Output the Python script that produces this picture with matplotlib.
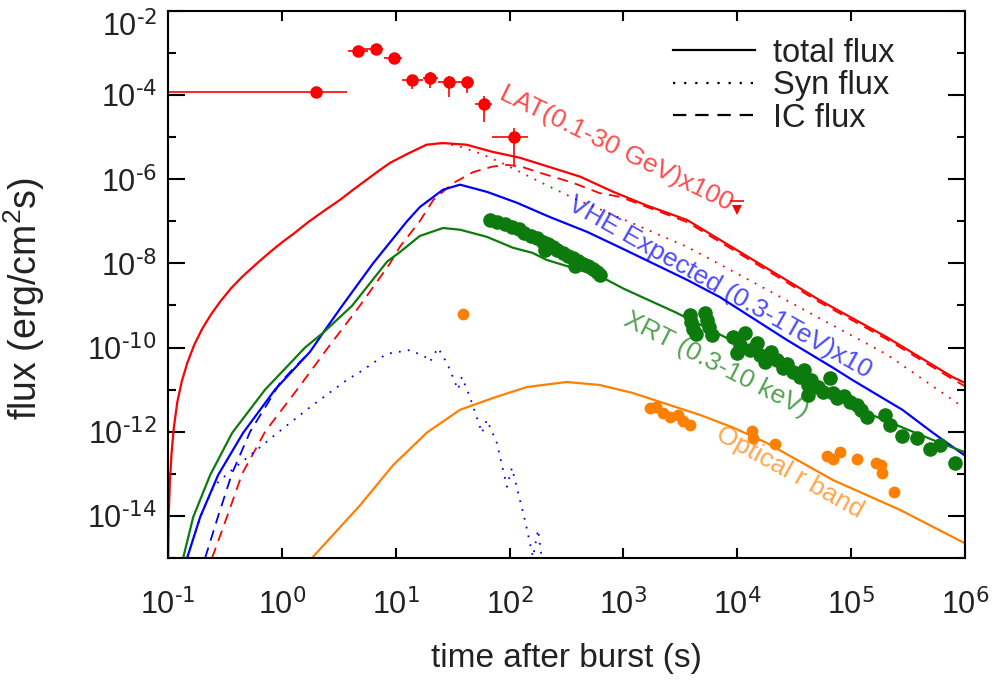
import numpy as np
import matplotlib
matplotlib.use("Agg")
import matplotlib.pyplot as plt
import matplotlib.transforms as mtransforms
from matplotlib.ticker import FixedLocator, FuncFormatter, NullFormatter, NullLocator
from matplotlib.lines import Line2D

plt.rcParams['font.family'] = ['Liberation Sans', 'DejaVu Sans']
plt.rcParams['mathtext.default'] = 'regular'
plt.rcParams['axes.unicode_minus'] = False

# model curves, log10(t [s]) and log10(flux)
lat_tot_lt = [-1.0, -0.995, -0.985, -0.97, -0.95, -0.92, -0.88, -0.83, -0.77, -0.7, -0.62, -0.54, -0.45,
              -0.35, -0.22, -0.1, 0.0, 0.1, 0.23, 0.37, 0.51, 0.63, 0.75, 0.85, 0.95, 1.1, 1.27, 1.41, 1.62,
              1.85, 2.09, 2.35, 2.62, 2.91, 3.2, 3.56, 4.14, 4.72, 5.31, 5.89, 6.0]
lat_tot_lf = [-15.0, -14.0, -13.2, -12.5, -11.9, -11.3, -10.8, -10.35, -9.93, -9.55, -9.2, -8.9, -8.6,
              -8.32, -8.0, -7.72, -7.5, -7.3, -7.02, -6.75, -6.49, -6.24, -6.0, -5.8, -5.61, -5.4, -5.18,
              -5.14, -5.18, -5.35, -5.49, -5.71, -5.94, -6.30, -6.62, -6.97, -7.92, -8.87, -9.75, -10.70,
              -10.84]
lat_ic_lt = [-0.614, -0.48, -0.35, -0.148, 0.133, 0.405, 0.686, 0.949, 1.037, 1.21, 1.33, 1.5, 1.68, 1.85,
             1.98, 2.1, 2.27, 2.56, 2.79, 2.97, 3.56, 4.14, 4.72, 5.31, 5.89, 6.0]
lat_ic_lf = [-15.0, -14.0, -13.0, -12.0, -11.0, -10.0, -9.0, -8.0, -7.6, -7.0, -6.49, -6.1, -5.83, -5.70,
             -5.66, -5.70, -5.85, -6.09, -6.33, -6.42, -7.02, -7.97, -8.92, -9.80, -10.75, -10.92]
lat_syn_lt = [1.41, 1.56, 1.75, 1.92, 2.1, 2.27, 2.56, 2.91, 3.56, 4.14, 4.72, 5.31, 5.98]
lat_syn_lf = [-5.14, -5.22, -5.40, -5.60, -5.84, -6.07, -6.45, -6.85, -7.61, -8.45, -9.30, -10.16, -11.41]

vhe_tot_lt = [-0.833, -0.719, -0.561, -0.342, -0.061, 0.247, 0.361, 0.528, 0.80, 1.098, 1.212, 1.414,
              1.564, 1.8, 2.064, 2.354, 2.679, 2.968, 3.557, 3.846, 4.435, 4.84, 5.01, 5.45, 5.72, 5.99]
vhe_tot_lf = [-15.0, -14.03, -13.03, -12.03, -11.0, -10.1, -9.65, -9.01, -8.0, -7.0, -6.66, -6.25,
              -6.13, -6.30, -6.56, -6.90, -7.25, -7.62, -8.39, -8.80, -9.82, -10.48, -10.77, -11.48,
              -12.03, -12.55]
vhe_ic_lt = [-0.675, -0.56, -0.44, -0.28, -0.12, -0.02, 0.1, 0.247]
vhe_ic_lf = [-15.0, -14.0, -13.0, -12.0, -11.3, -10.85, -10.5, -10.1]
vhe_syn_lt = [-0.833, -0.719, -0.6, -0.48, -0.22, -0.04, 0.25, 0.57, 0.686, 0.92, 1.125, 1.256, 1.30, 1.37,
              1.45, 1.546, 1.58, 1.65, 1.757, 1.80, 1.888, 1.976, 2.02, 2.134, 2.205, 2.25, 2.29]
vhe_syn_lf = [-15.0, -14.03, -13.3, -13.0, -12.43, -12.03, -11.41, -10.77, -10.58, -10.15, -10.06, -10.22,
              -10.34, -10.01, -10.37, -11.0, -10.70, -11.17, -12.03, -11.72, -12.27, -13.31, -12.86, -14.10,
              -14.98, -14.33, -15.2]

xrt_mod_lt = [-0.868, -0.78, -0.631, -0.438, -0.148, 0.203, 0.361, 0.615, 0.923, 1.037, 1.21, 1.414, 1.564,
              1.8, 2.03, 2.2, 2.327, 2.79, 3.0, 3.47, 4.0, 4.55, 5.0, 5.45, 5.72, 5.99]
xrt_mod_lf = [-15.0, -14.03, -13.03, -12.03, -11.0, -10.0, -9.65, -9.01, -7.96, -7.73, -7.35, -7.16, -7.20,
              -7.37, -7.63, -7.75, -7.92, -8.30, -8.60, -9.18, -9.90, -10.6, -11.4, -11.9, -12.2, -12.48]

opt_mod_lt = [0.264, 0.686, 0.975, 1.274, 1.564, 1.853, 2.15, 2.5, 2.79, 3.08, 3.67, 3.96, 4.26, 4.84,
              5.43, 5.99]
opt_mod_lf = [-15.0, -13.75, -12.8, -12.02, -11.48, -11.2, -10.94, -10.82, -10.89, -11.08, -11.6, -11.9,
              -12.27, -13.15, -13.86, -14.64]

# Fermi-LAT data (x100)
lat_t = [2.0, 4.65, 6.7, 9.6, 13.9, 20, 29.3, 42, 59.5, 109]
lat_t_lo = [0.1, 3.8, 5.3, 7.9, 11.3, 17.3, 23.5, 34.6, 49.5, 70]
lat_t_hi = [3.7, 5.7, 7.7, 11.3, 17.3, 23.5, 34.6, 48.5, 69.6, 145]
lat_lf = [-3.925, -2.95, -2.90, -3.117, -3.64, -3.59, -3.69, -3.69, -4.21, -4.99]
lat_lf_lo = [-3.925, -2.95, -2.90, -3.117, -3.85, -3.83, -4.04, -3.95, -4.64, -5.68]
lat_lf_hi = [-3.925, -2.95, -2.90, -3.117, -3.52, -3.45, -3.54, -3.57, -4.02, -4.78]
ul_t = [1e4]
ul_lf = [-6.515]

# XRT data
xrt_lt = [1.83, 1.89, 1.96, 2.02, 2.08, 2.13, 2.19, 2.24, 2.29, 2.34, 2.38, 2.42, 2.47, 2.51, 2.56, 2.60,
          2.64, 2.69, 2.73, 2.77, 2.79, 2.31, 2.57,
          3.58, 3.59, 3.61, 3.64, 3.72, 3.73, 3.75, 3.78,
          3.96, 4.02, 4.07, 4.00, 4.11, 4.17, 4.20, 4.24, 4.30, 4.35, 4.40, 4.44, 4.49, 4.55, 4.59, 4.62,
          4.65, 4.71, 4.75, 4.81, 4.84, 4.88, 4.94, 4.99, 5.05, 5.09, 5.14, 5.30, 5.34, 5.45, 5.58, 5.69,
          5.78, 5.91, 4.62]
xrt_lf = [-6.97, -7.01, -7.06, -7.13, -7.18, -7.28, -7.35, -7.40, -7.49, -7.54, -7.61, -7.68, -7.75, -7.82,
          -7.87, -7.94, -8.01, -8.06, -8.13, -8.20, -8.27, -7.68, -8.06,
          -9.22, -9.39, -9.56, -9.68, -9.18, -9.34, -9.51, -9.70,
          -9.75, -9.94, -9.65, -10.13, -10.06, -9.89, -10.18, -10.34, -10.10, -10.29, -10.48, -10.39, -10.58,
          -10.70, -10.53, -10.89, -10.77, -10.94, -11.05, -10.72, -11.08, -11.20, -11.15, -11.29, -11.36,
          -11.48, -11.65, -11.60, -11.84, -12.10, -12.15, -12.41, -12.31, -12.74, -11.13]

# optical data
opt_lt = [1.59, 3.23, 3.29, 3.35, 3.41, 3.48, 3.52, 3.58, 4.13, 4.14, 4.33, 4.79, 4.84, 4.90, 5.05, 5.22,
          5.26, 5.27, 5.38]
opt_lf = [-9.20, -11.43, -11.41, -11.55, -11.65, -11.60, -11.74, -11.84, -11.98, -12.14, -12.29, -12.58,
          -12.65, -12.48, -12.65, -12.74, -12.80, -12.98, -13.43]

RED = '#ff0000'
BLUE = '#0000ff'
GREEN = '#0c7a0c'
ORANGE = '#ff8000'
TXT = '#222222'


def p(lt, lf):
    return 10 ** np.array(lt), 10 ** np.array(lf)


def decade(v, pos):
    return r'$10^{\text{%d}}$' % int(round(np.log10(v)))


fig = plt.figure(figsize=(10.01, 6.82), dpi=100)
ax = fig.add_axes([0.168, 0.182, 0.796, 0.802])
ax.set_xscale('log')
ax.set_yscale('log')

lw = 1.6
dot = (0, (1, 4))
dash = (0, (6, 4))

ax.plot(*p(lat_tot_lt, lat_tot_lf), color=RED, lw=lw)
ax.plot(*p(lat_ic_lt, lat_ic_lf), color=RED, lw=1.3, ls=dash)
ax.plot(*p(lat_syn_lt, lat_syn_lf), color=RED, lw=1.3, ls=dot)
ax.plot(*p(vhe_tot_lt, vhe_tot_lf), color=BLUE, lw=lw)
ax.plot(*p(vhe_ic_lt, vhe_ic_lf), color=BLUE, lw=1.3, ls=dash)
ax.plot(*p(vhe_syn_lt, vhe_syn_lf), color=BLUE, lw=1.3, ls=dot)
ax.plot(*p(xrt_mod_lt, xrt_mod_lf), color=GREEN, lw=lw)
ax.plot(*p(opt_mod_lt, opt_mod_lf), color=ORANGE, lw=lw)

# data points
ax.plot(*p(xrt_lt, xrt_lf), 'o', color=GREEN, ms=10.5, mew=0)
ax.plot(*p(opt_lt, opt_lf), 'o', color=ORANGE, ms=8.5, mew=0)

lat_f = 10 ** np.array(lat_lf)
lt_arr = np.array(lat_t)
ax.errorbar(lt_arr, lat_f,
            xerr=[lt_arr - np.array(lat_t_lo), np.array(lat_t_hi) - lt_arr],
            yerr=[lat_f - 10 ** np.array(lat_lf_lo), 10 ** np.array(lat_lf_hi) - lat_f],
            fmt='o', color=RED, ms=9, mew=0, elinewidth=1.2, capsize=4, capthick=1.2)
ul_f = 10 ** np.array(ul_lf)
ax.plot(ul_t, ul_f, marker='_', color=RED, ms=10, mew=1.2, ls='none')
ax.plot(ul_t, ul_f * 10 ** -0.22, marker='v', color=RED, ms=7, mew=0, ls='none')

# labels on curves
ax.text(10 ** 2.94, 10 ** -5.26, 'LAT(0.1-30 GeV)x100', color=RED, alpha=0.7, fontsize=19,
        rotation=-26, ha='center', va='center', rotation_mode='anchor')
ax.text(10 ** 3.846, 10 ** -8.56, 'VHE Expected (0.3-1TeV)x10', color=BLUE, alpha=0.7, fontsize=19,
        rotation=-29.5, ha='center', va='center', rotation_mode='anchor')
ax.text(10 ** 3.82, 10 ** -10.41, 'XRT (0.3-10 keV)', color=GREEN, alpha=0.7, fontsize=19,
        rotation=-27, ha='center', va='center', rotation_mode='anchor')
ax.text(10 ** 4.46, 10 ** -12.96, 'Optical r band', color=ORANGE, alpha=0.7, fontsize=19,
        rotation=-29, ha='center', va='center', rotation_mode='anchor')

ax.set_xlim(1e-1, 1e6)
ax.set_ylim(1e-15, 1e-2)

ax.xaxis.set_major_locator(FixedLocator([10.0 ** k for k in range(-1, 7)]))
ax.xaxis.set_minor_locator(NullLocator())
ax.xaxis.set_major_formatter(FuncFormatter(decade))
ax.yaxis.set_major_locator(FixedLocator([10.0 ** k for k in range(-14, -1, 2)]))
ax.yaxis.set_minor_locator(FixedLocator([10.0 ** k for k in range(-15, -1, 2)]))
ax.yaxis.set_major_formatter(FuncFormatter(decade))
ax.yaxis.set_minor_formatter(NullFormatter())

ax.tick_params(which='both', direction='in', top=True, right=True, width=1.5, colors='black',
               labelcolor=TXT, labelsize=22)
ax.tick_params(axis='x', which='major', length=7, pad=22)
ax.tick_params(axis='y', which='major', length=12, pad=8)
ax.tick_params(axis='y', which='minor', length=6)
for s in ax.spines.values():
    s.set_linewidth(1.5)

# top y label sits a little below its tick
top_tick = ax.yaxis.get_major_ticks()[-1]
top_tick.label1.set_transform(top_tick.label1.get_transform() +
                              mtransforms.ScaledTranslation(0, -0.13, fig.dpi_scale_trans))

ax.set_xlabel('time after burst (s)', fontsize=24, color=TXT, labelpad=16)
ax.set_ylabel('flux (erg/cm$^2$s)', fontsize=27, color=TXT)
ax.yaxis.set_label_coords(-0.152, 0.475)

handles = [Line2D([], [], color='black', lw=1.6),
           Line2D([], [], color='black', lw=1.6, ls=dot),
           Line2D([], [], color='black', lw=1.6, ls=dash)]
ax.legend(handles, ['total flux', 'Syn flux', 'IC flux'], loc='upper right', bbox_to_anchor=(0.928, 0.975),
          frameon=False, fontsize=23.5, handlelength=2.5, handletextpad=0.55, labelspacing=0.05,
          borderaxespad=0, labelcolor=TXT)

fig.savefig('out.png', dpi=100)
